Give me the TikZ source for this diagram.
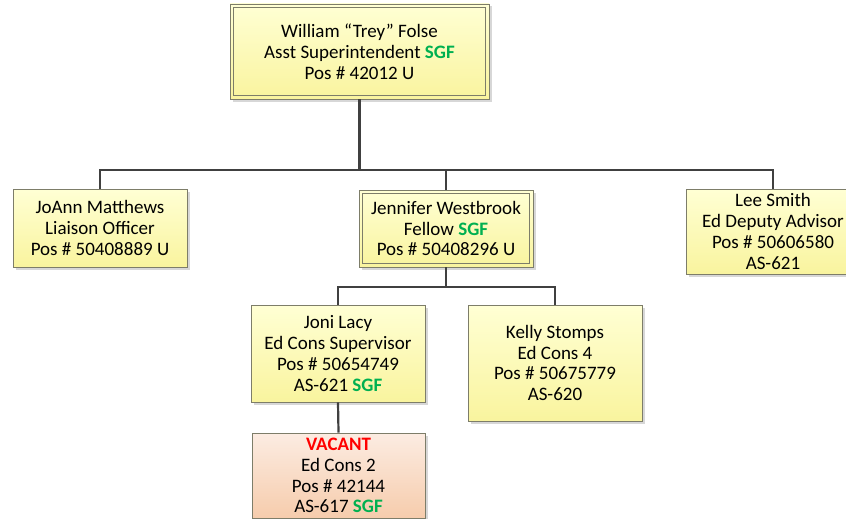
\documentclass[tikz,border=0pt]{standalone}
\usepackage{fontspec}
\setmainfont{Carlito}
\usetikzlibrary{shadows}

\definecolor{sgfgreen}{RGB}{0,176,80}
\definecolor{vacred}{RGB}{255,0,0}
\definecolor{boxline}{RGB}{125,125,105}
\definecolor{yeltop}{RGB}{255,255,212}
\definecolor{yelbot}{RGB}{249,244,158}
\definecolor{peachtop}{RGB}{252,236,226}
\definecolor{peachbot}{RGB}{246,204,172}
\definecolor{wire}{RGB}{64,64,64}

\newcommand{\sgf}{\textcolor{sgfgreen}{\textbf{SGF}}}

\tikzset{
  orgbox/.style={draw=boxline, line width=0.8pt, rectangle, align=center,
    top color=yeltop, bottom color=yelbot, inner sep=2pt,
    font=\fontsize{19}{20.8}\selectfont,
    drop shadow={shadow xshift=2.5pt, shadow yshift=-2.5pt, opacity=0.35, fill=black!45}},
  vacbox/.style={orgbox, top color=peachtop, bottom color=peachbot},
  wireline/.style={draw=wire, line width=2.2pt},
  innerframe/.style={draw=boxline, line width=0.8pt}
}

\begin{document}
\begin{tikzpicture}[x=1pt, y=-1pt]
  \useasboundingbox (0,0) rectangle (846,519);
  \clip (0,0) rectangle (846,519);

  % position boxes
  \node[orgbox, minimum width=259pt, minimum height=95pt] (trey) at (359.5,51.5)
    {William “Trey” Folse\\Asst Superintendent \sgf\\Pos \# 42012 U};
  \node[orgbox, minimum width=174pt, minimum height=78pt] (joann) at (100,228)
    {JoAnn Matthews\\Liaison Officer\\Pos \# 50408889 U};
  \node[orgbox, minimum width=174pt, minimum height=77pt] (jen) at (446,228.5)
    {Jennifer Westbrook\\Fellow \sgf\\Pos \# 50408296 U};
  \node[orgbox, minimum width=174pt, minimum height=85pt] (lee) at (773,231.5)
    {Lee Smith\\Ed Deputy Advisor\\Pos \# 50606580\\AS-621};
  \node[orgbox, minimum width=174pt, minimum height=97pt] (joni) at (338,353.5)
    {Joni Lacy\\Ed Cons Supervisor\\Pos \# 50654749\\AS-621 \sgf};
  \node[orgbox, minimum width=174pt, minimum height=116pt] (kelly) at (555,363)
    {Kelly Stomps\\Ed Cons 4\\Pos \# 50675779\\AS-620};
  \node[vacbox, minimum width=173pt, minimum height=85pt] (vacant) at (338.5,475.5)
    {\textcolor{vacred}{\textbf{VACANT}}\\Ed Cons 2\\Pos \# 42144\\AS-617 \sgf};

  % inner frames of the double-bordered boxes
  \draw[innerframe] ([shift={(4pt,-4pt)}]trey.north west) rectangle ([shift={(-4pt,4pt)}]trey.south east);
  \draw[innerframe] ([shift={(4pt,-4pt)}]jen.north west) rectangle ([shift={(-4pt,4pt)}]jen.south east);

  % bus lines
  \coordinate (bus1) at (360,170);
  \coordinate (bus2) at (446,287);

  \draw[wireline] (trey.south) -- (trey.south |- bus1);
  \draw[wireline] (joann.north) |- (bus1) -| (lee.north);
  \draw[wireline] (jen.north) -- (jen.north |- bus1);

  \draw[wireline] (jen.south) -- (jen.south |- bus2);
  \draw[wireline] (joni.north) |- (bus2) -| (kelly.north);

  \draw[wireline] (joni.south) -- (vacant.north);
\end{tikzpicture}
\end{document}
